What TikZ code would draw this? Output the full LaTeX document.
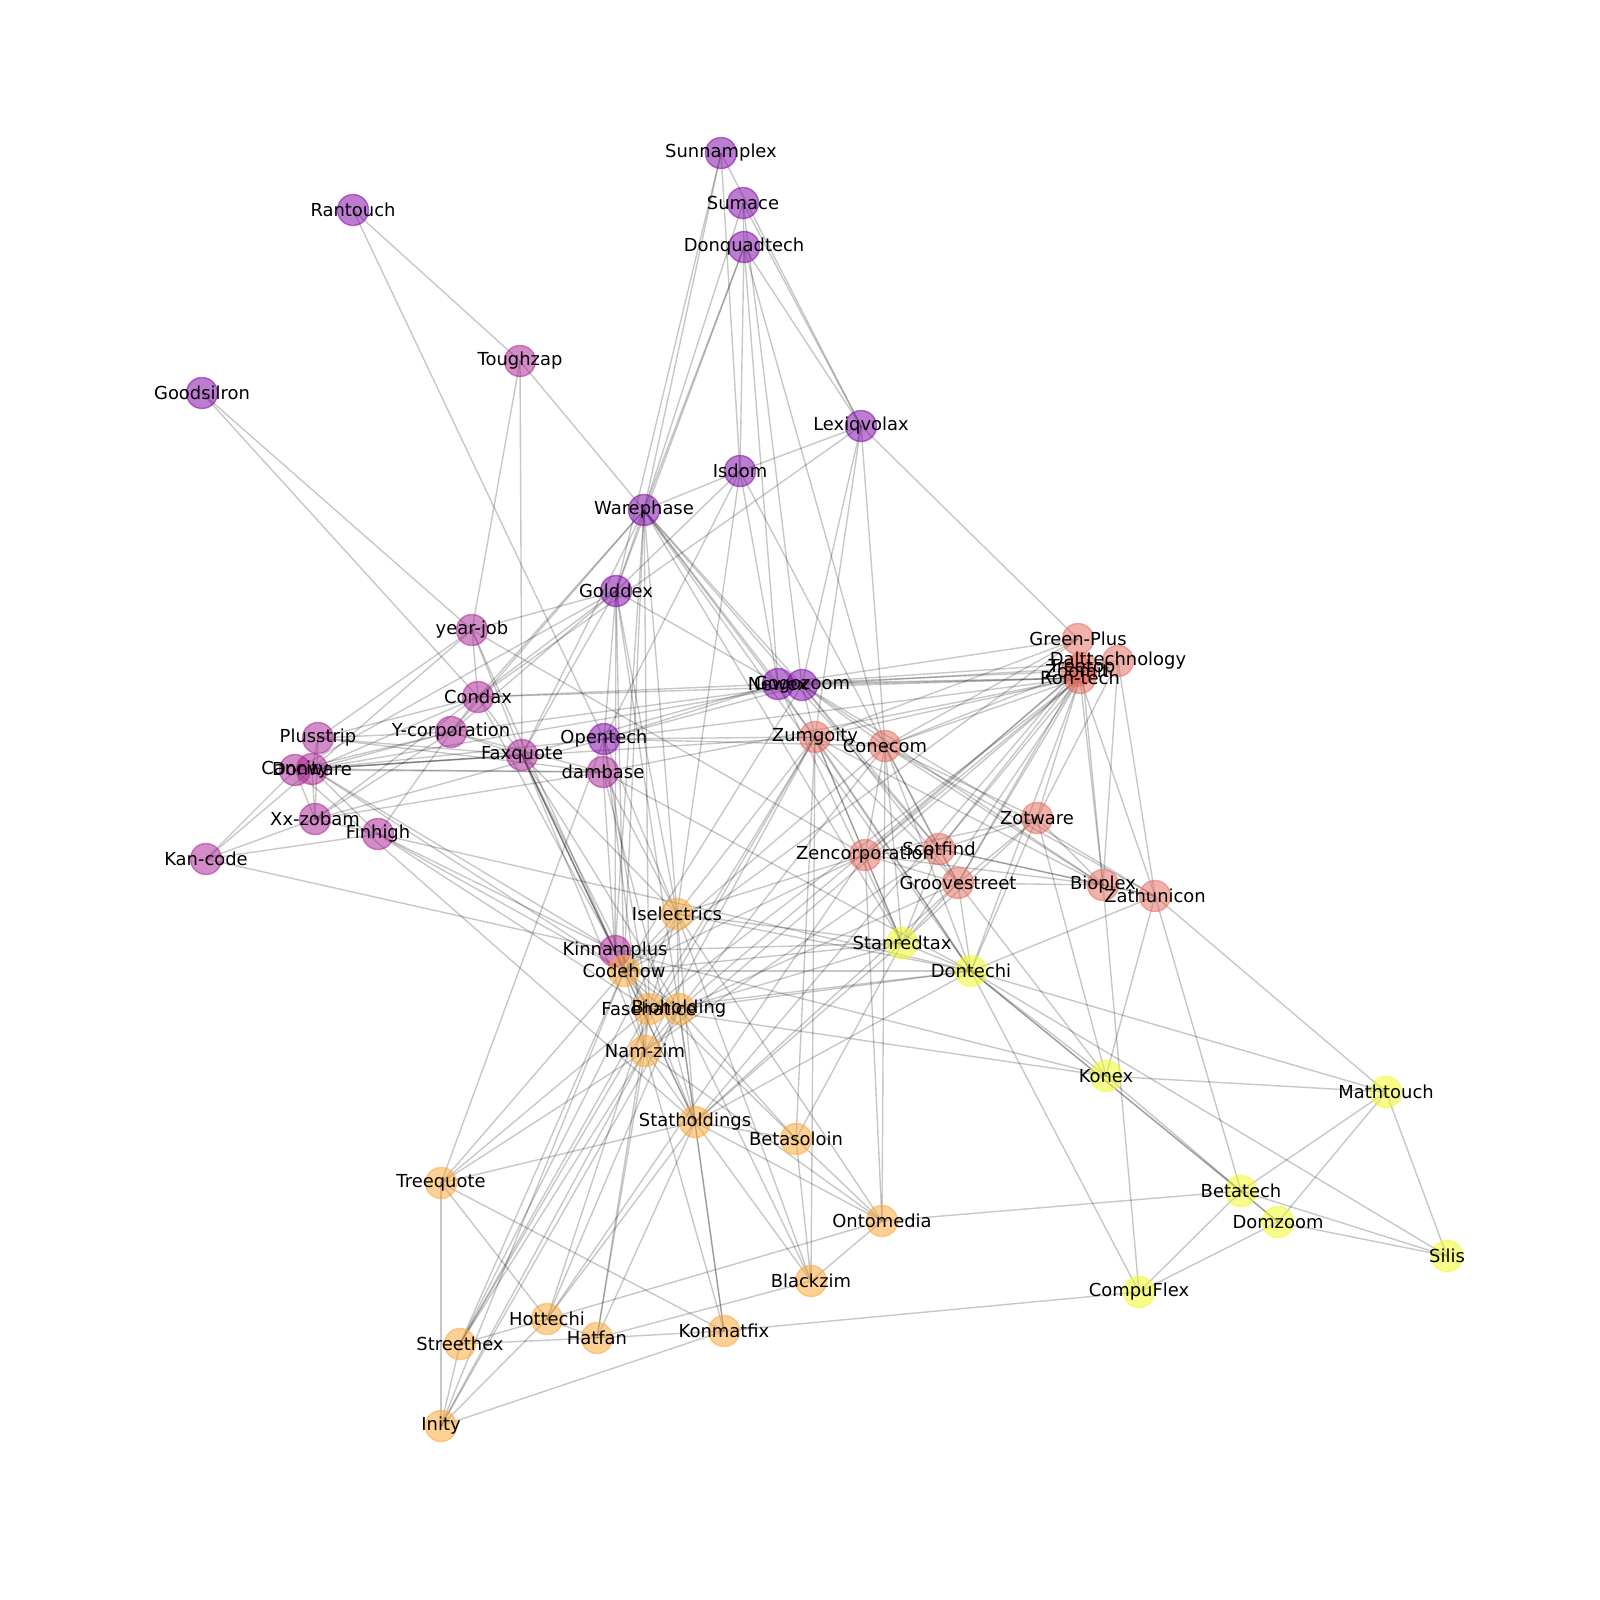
\documentclass[tikz,border=0pt]{standalone}
\usepackage{fontspec}
\setmainfont{DejaVu Sans}
\usetikzlibrary{backgrounds}

\definecolor{cpurple}{RGB}{126,3,168}
\definecolor{cmagenta}{RGB}{169,35,149}
\definecolor{csalmon}{RGB}{229,107,93}
\definecolor{corange}{RGB}{252,166,54}
\definecolor{cyellow}{RGB}{240,249,33}

\tikzset{
  co/.style={circle, minimum size=22.4pt, inner sep=0pt, fill=#1, draw=#1, line width=1pt, opacity=0.52},
  edge/.style={draw=black, line width=1pt, draw opacity=0.22},
  lbl/.style={font=\fontsize{12.9}{15}\selectfont, inner sep=0pt, text=black}
}

\begin{document}
\begin{tikzpicture}[x=0.72pt, y=-0.72pt]
\useasboundingbox (0,0) rectangle (1600,1600);

% purple group
\node[co=cpurple] (sunn) at (721,153) {};
\node[co=cpurple] (sumace) at (743,203) {};
\node[co=cpurple] (donq) at (744,247) {};
\node[co=cpurple] (rant) at (353,210) {};
\node[co=cpurple] (goods) at (202,393) {};
\node[co=cpurple] (lexiq) at (861,426) {};
\node[co=cpurple] (isdom) at (740,471) {};
\node[co=cpurple] (ware) at (644,510) {};
\node[co=cpurple] (gold) at (616,591) {};
\node[co=cpurple] (newex) at (778,684) {};
\node[co=cpurple] (gogo) at (802,685) {};
\node[co=cpurple] (open) at (604,739) {};

% magenta group
\node[co=cmagenta] (tough) at (520,361) {};
\node[co=cmagenta] (yjob) at (472,630) {};
\node[co=cmagenta] (condax) at (478,697) {};
\node[co=cmagenta] (plus) at (318,738) {};
\node[co=cmagenta] (ycorp) at (451,732) {};
\node[co=cmagenta] (faxq) at (522,755) {};
\node[co=cmagenta] (damb) at (603,772) {};
\node[co=cmagenta] (canc) at (295,770) {};
\node[co=cmagenta] (donw) at (312,769) {};
\node[co=cmagenta] (xxz) at (315,819) {};
\node[co=cmagenta] (finh) at (378,834) {};
\node[co=cmagenta] (kanc) at (206,859) {};
\node[co=cmagenta] (kinn) at (615,951) {};

% salmon group
\node[co=csalmon] (green) at (1078,639) {};
\node[co=csalmon] (dalt) at (1118,661) {};
\node[co=csalmon] (zoomit) at (1077,671) {};
\node[co=csalmon] (treetop) at (1082,668) {};
\node[co=csalmon] (ron) at (1080,678) {};
\node[co=csalmon] (zumg) at (815,737) {};
\node[co=csalmon] (cone) at (885,746) {};
\node[co=csalmon] (zotw) at (1037,818) {};
\node[co=csalmon] (zenc) at (865,855) {};
\node[co=csalmon] (scot) at (939,849) {};
\node[co=csalmon] (groove) at (958,883) {};
\node[co=csalmon] (biop) at (1103,885) {};
\node[co=csalmon] (zath) at (1155,896) {};

% orange group
\node[co=corange] (isel) at (677,914) {};
\node[co=corange] (codeh) at (624,971) {};
\node[co=corange] (fase) at (649,1009) {};
\node[co=corange] (bioh) at (679,1009) {};
\node[co=corange] (namz) at (645,1051) {};
\node[co=corange] (stath) at (695,1122) {};
\node[co=corange] (betas) at (796,1139) {};
\node[co=corange] (treeq) at (441,1183) {};
\node[co=corange] (onto) at (882,1221) {};
\node[co=corange] (blackz) at (811,1281) {};
\node[co=corange] (hott) at (547,1319) {};
\node[co=corange] (streeth) at (460,1344) {};
\node[co=corange] (hatf) at (597,1338) {};
\node[co=corange] (konm) at (724,1331) {};
\node[co=corange] (inity) at (441,1426) {};

% yellow group
\node[co=cyellow] (stan) at (902,943) {};
\node[co=cyellow] (dont) at (971,971) {};
\node[co=cyellow] (konex) at (1106,1076) {};
\node[co=cyellow] (matht) at (1386,1092) {};
\node[co=cyellow] (betat) at (1241,1191) {};
\node[co=cyellow] (domz) at (1278,1222) {};
\node[co=cyellow] (silis) at (1447,1256) {};
\node[co=cyellow] (compu) at (1139,1292) {};

% links
\begin{scope}[on background layer]
\foreach \a/\b in {sunn/ware, sunn/isdom, sunn/lexiq, sunn/gold, sumace/ware, sumace/lexiq,
  sumace/gogo, sumace/donq, donq/ware, donq/gold, donq/isdom, donq/lexiq, donq/newex, donq/cone,
  isdom/ware, isdom/lexiq, isdom/gold, isdom/open, isdom/newex, isdom/isel, isdom/cone,
  lexiq/green, lexiq/gogo, lexiq/zumg, lexiq/cone, lexiq/condax,
  ware/tough, ware/gold, ware/ycorp, ware/condax, ware/faxq, ware/newex, ware/gogo, ware/zumg,
  ware/scot, ware/kinn, ware/fase, ware/isel, ware/codeh, ware/stan, ware/dont,
  gold/yjob, gold/ycorp, gold/canc, gold/xxz, gold/faxq, gold/open, gold/newex, gold/isel,
  gold/kinn, gold/bioh, gold/codeh,
  goods/yjob, goods/condax, rant/tough, rant/open, tough/yjob, tough/faxq,
  yjob/condax, yjob/plus, yjob/donw, yjob/faxq, yjob/kinn, yjob/zenc,
  condax/donw, condax/plus, condax/ycorp, condax/faxq, condax/newex, condax/ron, condax/kinn,
  plus/ycorp, plus/faxq, plus/xxz, plus/donw, plus/damb,
  ycorp/donw, ycorp/canc, ycorp/xxz, ycorp/finh, ycorp/faxq, ycorp/damb, ycorp/gogo,
  faxq/donw, faxq/canc, faxq/kinn, faxq/codeh, faxq/fase, faxq/stath, faxq/isel, faxq/bioh,
  faxq/namz, faxq/newex,
  damb/open, damb/donw, damb/canc, damb/ron, damb/kinn, damb/isel, damb/stath, damb/xxz, damb/dont,
  canc/kanc, canc/xxz, donw/kanc, donw/xxz, donw/finh, donw/open, donw/kinn, donw/gogo,
  canc/zumg, donw/codeh, canc/stath,
  xxz/kanc, xxz/finh, xxz/open, finh/kanc, finh/kinn, finh/codeh, finh/dont, finh/fase,
  kanc/kinn, kinn/codeh, kinn/fase, kinn/bioh, kinn/konex, kinn/stan,
  open/newex, open/gogo, open/ron, open/zumg, open/cone, open/fase, open/isel, open/treeq, open/namz,
  newex/green, newex/ron, newex/zoomit, newex/dalt, gogo/ron, gogo/treetop, gogo/cone, gogo/zumg,
  gogo/scot, gogo/groove, gogo/biop, gogo/zath, newex/stan, newex/dont, gogo/codeh,
  ron/zumg, ron/cone, ron/zenc, ron/scot, ron/groove, ron/biop, ron/zotw, ron/stan, ron/dont,
  ron/namz, ron/fase, ron/zath, green/zumg, green/cone, dalt/biop, dalt/zath, dalt/zotw,
  zoomit/cone, zoomit/stath, zoomit/zenc, treetop/bioh, treetop/scot, treetop/biop, treetop/groove,
  green/codeh,
  zumg/cone, zumg/zenc, zumg/groove, zumg/biop, zumg/stan, zumg/dont, zumg/blackz, zumg/betas,
  zumg/fase, zumg/namz, zumg/isel, zumg/streeth,
  cone/zenc, cone/scot, cone/groove, cone/biop, cone/zath, cone/dont, cone/stan, cone/onto,
  cone/codeh, cone/bioh, cone/zotw,
  zotw/scot, zotw/biop, zotw/dont, zotw/groove, zotw/zenc, zotw/stan, zotw/konex,
  zenc/scot, zenc/groove, zenc/biop, zenc/stan, zenc/onto, zenc/codeh, zenc/hott, zenc/isel,
  scot/groove, scot/stan, scot/biop, scot/namz, scot/zath,
  groove/stan, groove/dont, groove/biop, groove/konex, groove/stath, groove/bioh,
  biop/zath, biop/compu, zath/dont, zath/konex, zath/matht, zath/betat,
  isel/codeh, isel/fase, isel/bioh, isel/stath, isel/blackz, isel/onto, isel/stan, isel/dont,
  isel/streeth,
  codeh/fase, codeh/bioh, codeh/namz, codeh/stath, codeh/treeq, codeh/streeth, codeh/inity,
  codeh/betas, codeh/stan, codeh/dont,
  fase/bioh, fase/namz, fase/stath, fase/treeq, fase/hott, fase/streeth, fase/hatf, fase/dont,
  bioh/namz, bioh/stath, bioh/betas, bioh/blackz, bioh/hott, bioh/inity, bioh/konm, bioh/stan,
  bioh/dont,
  namz/stath, namz/hatf, namz/konm, namz/onto, namz/streeth, namz/treeq, namz/inity,
  stath/stan, stath/betas, stath/blackz, stath/onto, stath/konm, stath/treeq, stath/hott,
  stath/hatf, stath/dont,
  betas/onto, betas/stan, betas/blackz, onto/blackz, onto/betat, onto/hott, blackz/hatf,
  treeq/inity, treeq/hott, treeq/konm, hott/streeth, hott/inity, hott/hatf, streeth/hatf,
  streeth/inity, hatf/konm, konm/inity, konm/compu,
  stan/dont, dont/konex, dont/betat, dont/domz, dont/matht, dont/silis, dont/compu,
  konex/matht, konex/betat, konex/fase, matht/betat, matht/domz, matht/silis,
  betat/domz, betat/silis, betat/compu, domz/compu, domz/silis}
  \draw[edge] (\a.center) -- (\b.center);
\end{scope}

% names
\foreach \n/\t in {sunn/Sunnamplex, sumace/Sumace, donq/Donquadtech, rant/Rantouch,
  goods/Goodsilron, lexiq/Lexiqvolax, isdom/Isdom, ware/Warephase, gold/Golddex,
  newex/Newex, gogo/Gogozoom, open/Opentech,
  tough/Toughzap, yjob/year-job, condax/Condax, plus/Plusstrip, ycorp/Y-corporation,
  faxq/Faxquote, damb/dambase, canc/Cancity, donw/Donware, xxz/Xx-zobam, finh/Finhigh,
  kanc/Kan-code, kinn/Kinnamplus,
  green/Green-Plus, dalt/Dalttechnology, zoomit/Zoomit, treetop/Treetop, ron/Ron-tech,
  zumg/Zumgoity, cone/Conecom, zotw/Zotware, zenc/Zencorporation, scot/Scotfind,
  groove/Groovestreet, biop/Bioplex, zath/Zathunicon,
  isel/Iselectrics, codeh/Codehow, fase/Fasehatice, bioh/Bioholding, namz/Nam-zim,
  stath/Statholdings, betas/Betasoloin, treeq/Treequote, onto/Ontomedia, blackz/Blackzim,
  hott/Hottechi, streeth/Streethex, hatf/Hatfan, konm/Konmatfix, inity/Inity,
  stan/Stanredtax, dont/Dontechi, konex/Konex, matht/Mathtouch, betat/Betatech,
  domz/Domzoom, silis/Silis, compu/CompuFlex}
  \node[lbl] (\n-name) at (\n) {\t};
\end{tikzpicture}
\end{document}
